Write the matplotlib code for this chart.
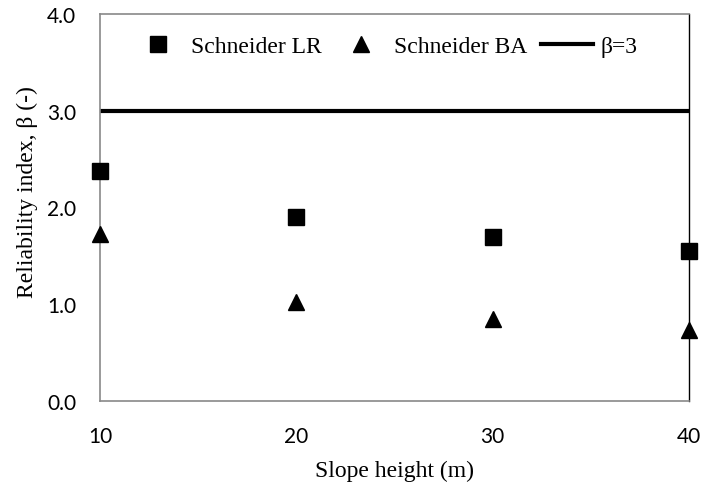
import matplotlib
matplotlib.use("Agg")
import matplotlib.pyplot as plt

# data
heights = [10, 20, 30, 40]
beta_lr = [2.38, 1.90, 1.70, 1.55]
beta_ba = [1.73, 1.02, 0.85, 0.73]
beta_target = 3.0
x_ticks = [10, 20, 30, 40]
y_ticks = [0.0, 1.0, 2.0, 3.0, 4.0]

SERIF = "Liberation Serif"   # Times New Roman metrics
SANS = "Lato"                # stand-in for Calibri
W, H = 702, 489

fig = plt.figure(figsize=(W / 100, H / 100), dpi=100)
ax = fig.add_axes([100 / W, 1 - 402 / H, 589 / W, 387 / H])

lr, = ax.plot(heights, beta_lr, linestyle="none", marker="s", markersize=11,
              color="black", label="Schneider LR", clip_on=False, zorder=5)
ba, = ax.plot(heights, beta_ba, linestyle="none", marker="^", markersize=11,
              color="black", label="Schneider BA", clip_on=False, zorder=5)
tgt = ax.axhline(beta_target, color="black", linewidth=3, label="β=3")

ax.set_xlim(10, 40)
ax.set_ylim(0, 4)
ax.set_xticks(x_ticks)
ax.set_yticks(y_ticks)
ax.set_xticklabels([str(v) for v in x_ticks], family=SANS, fontsize=15)
ax.set_yticklabels([f"{v:.1f}" for v in y_ticks], family=SANS, fontsize=15)
ax.tick_params(length=0)
ax.tick_params(axis="x", pad=18)
ax.tick_params(axis="y", pad=17)

for side in ["left", "bottom", "top"]:
    ax.spines[side].set_color("#898989")
    ax.spines[side].set_linewidth(1.2)
ax.spines["right"].set_color("black")
ax.spines["right"].set_linewidth(1.0)

ax.set_xlabel("Slope height (m)", family=SERIF, fontsize=17, labelpad=10)
ax.set_ylabel("Reliability index, β (-)", family=SERIF, fontsize=17, labelpad=7)
ax.yaxis.label.set_y(0.543)

fig.legend(handles=[lr, ba, tgt], loc="center left",
           bbox_to_anchor=(132 / W, 1 - 47 / H), ncol=3, frameon=False,
           prop={"family": SERIF, "size": 17}, handlelength=2.2,
           borderpad=0, borderaxespad=0, handletextpad=0.3,
           columnspacing=0.58)

fig.savefig("out.png", dpi=100)
